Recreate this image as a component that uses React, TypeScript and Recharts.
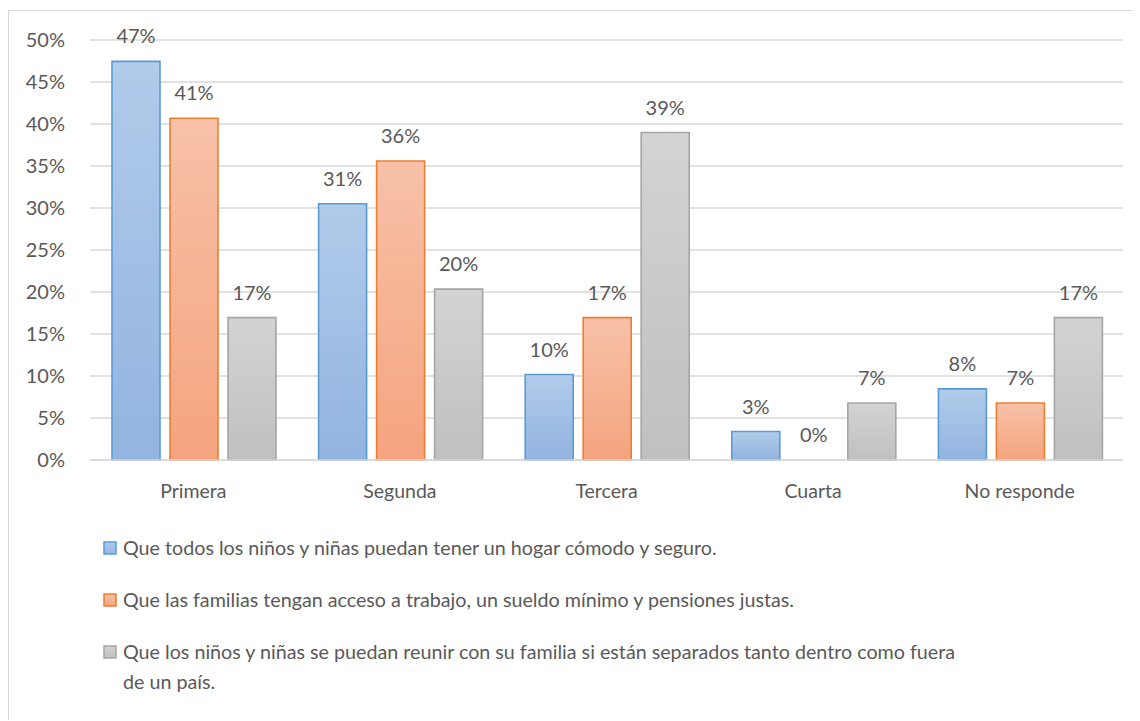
import React from "react";
import {
  Bar,
  BarChart,
  CartesianGrid,
  LabelList,
  Legend,
  Rectangle,
  XAxis,
  YAxis,
} from "recharts";

const categories = ["Primera", "Segunda", "Tercera", "Cuarta", "No responde"];
const hogar = [47.46, 30.51, 10.17, 3.39, 8.47];
const trabajo = [40.68, 35.59, 16.95, 0, 6.78];
const familia = [16.95, 20.34, 38.98, 6.78, 16.95];
const yTicks = [0, 5, 10, 15, 20, 25, 30, 35, 40, 45, 50];

const seriesNames = [
  "Que todos los niños y niñas puedan tener un hogar cómodo y seguro.",
  "Que las familias tengan acceso a trabajo, un sueldo mínimo y pensiones justas.",
  "Que los niños y niñas se puedan reunir con su familia si están separados tanto dentro como fuera de un país.",
];

const data = categories.map((name, i) => ({
  name,
  hogar: hogar[i],
  trabajo: trabajo[i],
  familia: familia[i],
}));

const FONT = "Lato, 'Open Sans', sans-serif";
const TEXT = "#595959";

const styles = [
  { key: "hogar", top: "#b1cbea", bottom: "#92b4e0", stroke: "#5b9bd5" },
  { key: "trabajo", top: "#f7c1a8", bottom: "#f5a47e", stroke: "#ed7d31" },
  { key: "familia", top: "#d3d3d3", bottom: "#c0c0c0", stroke: "#a5a5a5" },
];

const pct = (v: any) => `${Math.round(Number(v))}%`;

// zero-height bars still need a rect so the 0% label shows, but draw nothing
const barShape = (props: any) =>
  props.height < 0.5 ? <g /> : <Rectangle {...props} />;

const renderLegend = () => (
  <div style={{ fontFamily: FONT, fontSize: 19.7, color: TEXT }}>
    {seriesNames.map((label, i) => {
      const s = styles[i];
      const lines =
        i === 2
          ? [
              "Que los niños y niñas se puedan reunir con su familia si están separados tanto dentro como fuera",
              "de un país.",
            ]
          : [label];
      return (
        <div
          key={s.key}
          style={{ display: "flex", alignItems: "flex-start", marginBottom: 22 }}
        >
          <svg width={20} height={30} style={{ flex: "none" }}>
            <defs>
              <linearGradient id={`lg-${s.key}`} x1="0" y1="0" x2="0" y2="1">
                <stop offset="0%" stopColor={s.top} />
                <stop offset="100%" stopColor={s.bottom} />
              </linearGradient>
            </defs>
            <rect
              x={1}
              y={9}
              width={12}
              height={12}
              fill={`url(#lg-${s.key})`}
              stroke={s.stroke}
              strokeWidth={1.5}
            />
          </svg>
          <div style={{ lineHeight: "30px", whiteSpace: "nowrap" }}>
            {lines.map((l) => (
              <div key={l}>{l}</div>
            ))}
          </div>
        </div>
      );
    })}
  </div>
);

export default function App() {
  return (
    <div
      style={{
        position: "relative",
        top: 2,
        width: 1131,
        height: 711,
        borderTop: "1px solid #d9d9d9",
        borderLeft: "1px solid #d9d9d9",
        background: "#fff",
      }}
    >
      <BarChart
        width={1131}
        height={700}
        data={data}
        margin={{ top: 29, right: 17, left: 0, bottom: 221 }}
        barCategoryGap={22}
        barGap={10}
      >
        <defs>
          {styles.map((s) => (
            <linearGradient key={s.key} id={`g-${s.key}`} x1="0" y1="0" x2="0" y2="1">
              <stop offset="0%" stopColor={s.top} />
              <stop offset="100%" stopColor={s.bottom} />
            </linearGradient>
          ))}
        </defs>
        <CartesianGrid vertical={false} stroke="#d9d9d9" strokeWidth={1.3} />
        <XAxis
          dataKey="name"
          axisLine={{ stroke: "#d9d9d9", strokeWidth: 1.3 }}
          tickLine={false}
          tickSize={0}
          tickMargin={24}
          tick={{ fill: TEXT, fontSize: 19.5, fontFamily: FONT }}
        />
        <YAxis
          width={81}
          domain={[0, 50]}
          ticks={yTicks}
          tickFormatter={pct}
          axisLine={false}
          tickLine={false}
          tickSize={0}
          tickMargin={25}
          tick={{ fill: TEXT, fontSize: 20, fontFamily: FONT }}
        />
        <Legend
          content={renderLegend}
          layout="horizontal"
          align="center"
          verticalAlign="middle"
          wrapperStyle={{ left: 94, top: 522, width: 1030 }}
        />
        {styles.map((s, i) => (
          <Bar
            key={s.key}
            dataKey={s.key}
            name={seriesNames[i]}
            fill={`url(#g-${s.key})`}
            stroke={s.stroke}
            strokeWidth={1.6}
            minPointSize={(v: any) => (Number(v) === 0 ? 0.01 : 0)}
            shape={barShape}
            isAnimationActive={false}
          >
            <LabelList
              dataKey={s.key}
              position="top"
              offset={18}
              formatter={pct}
              fill={TEXT}
              fontSize={20}
              fontFamily={FONT}
            />
          </Bar>
        ))}
      </BarChart>
    </div>
  );
}
